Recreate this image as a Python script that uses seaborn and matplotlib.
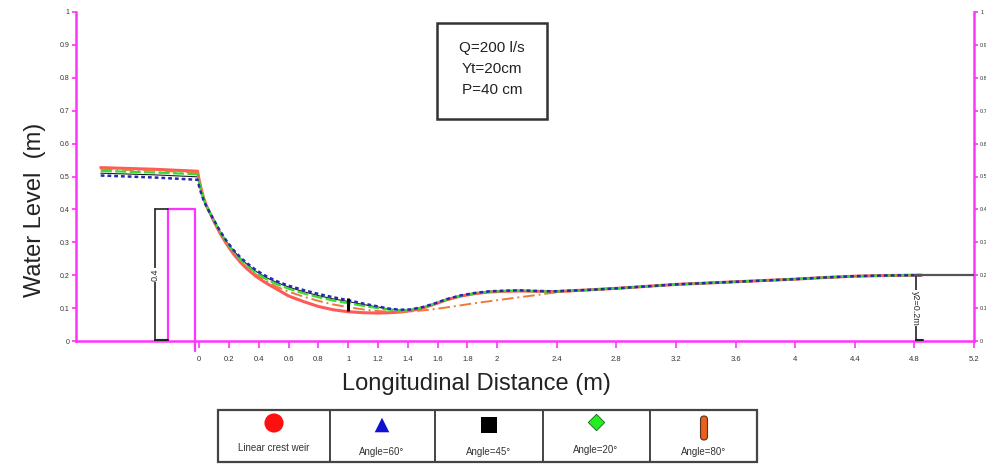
import numpy as np
import pandas as pd
import matplotlib
matplotlib.use("Agg")
import matplotlib.pyplot as plt
import seaborn as sns
from matplotlib.patches import Rectangle, FancyBboxPatch

sns.set_style("white")
plt.rcParams['font.family'] = ['Liberation Sans', 'DejaVu Sans']

# ---------------- data ----------------
x_pts = [-0.66, -0.3, -0.01, 0.0, 0.015, 0.03, 0.05, 0.074, 0.1, 0.14, 0.18, 0.23, 0.28, 0.32,
         0.38, 0.45, 0.52, 0.6, 0.7, 0.8, 0.9, 1.0, 1.1, 1.2, 1.28, 1.35, 1.42, 1.5, 1.58,
         1.66, 1.75, 1.85, 1.95, 2.05, 2.15, 2.27, 2.38, 2.6, 2.8, 3.0, 3.2, 3.4, 3.6, 3.8,
         4.0, 4.2, 4.4, 4.6, 4.8, 4.85]

linear_crest = [0.527, 0.522, 0.516, 0.490, 0.460, 0.435, 0.410, 0.388, 0.363, 0.328, 0.298,
                0.265, 0.238, 0.220, 0.197, 0.176, 0.158, 0.137, 0.120, 0.105, 0.095, 0.089,
                0.086, 0.085, 0.086, 0.088, 0.092, 0.100, 0.112, 0.125, 0.136, 0.144, 0.149,
                0.151, 0.152, 0.151, 0.150, 0.155, 0.160, 0.166, 0.172, 0.176, 0.180, 0.184,
                0.188, 0.193, 0.197, 0.199, 0.200, 0.200]
angle_60 = [0.503, 0.497, 0.490, 0.470, 0.447, 0.428, 0.408, 0.388, 0.367, 0.335, 0.307,
            0.277, 0.253, 0.237, 0.216, 0.197, 0.182, 0.168, 0.155, 0.143, 0.133, 0.124,
            0.114, 0.105, 0.098, 0.095, 0.096, 0.103, 0.114, 0.127, 0.138, 0.146, 0.151,
            0.153, 0.154, 0.152, 0.151, 0.155, 0.160, 0.166, 0.172, 0.176, 0.180, 0.184,
            0.188, 0.193, 0.197, 0.199, 0.200, 0.200]
angle_45 = [0.510, 0.505, 0.499, 0.478, 0.451, 0.430, 0.409, 0.388, 0.366, 0.334, 0.305,
            0.275, 0.250, 0.234, 0.212, 0.193, 0.178, 0.164, 0.150, 0.138, 0.128, 0.120,
            0.111, 0.103, 0.097, 0.094, 0.095, 0.102, 0.113, 0.126, 0.137, 0.145, 0.150,
            0.152, 0.153, 0.151, 0.150, 0.155, 0.160, 0.166, 0.172, 0.176, 0.180, 0.184,
            0.188, 0.193, 0.197, 0.199, 0.200, 0.200]
angle_20 = [0.517, 0.512, 0.507, 0.485, 0.455, 0.432, 0.410, 0.389, 0.366, 0.332, 0.303,
            0.272, 0.247, 0.230, 0.208, 0.188, 0.173, 0.159, 0.145, 0.133, 0.123, 0.115,
            0.107, 0.100, 0.095, 0.093, 0.095, 0.102, 0.113, 0.126, 0.137, 0.145, 0.150,
            0.152, 0.153, 0.151, 0.150, 0.155, 0.160, 0.166, 0.172, 0.176, 0.180, 0.184,
            0.188, 0.193, 0.197, 0.199, 0.200, 0.200]
angle_80 = [0.522, 0.518, 0.512, 0.488, 0.458, 0.434, 0.410, 0.389, 0.365, 0.330, 0.300,
            0.268, 0.242, 0.225, 0.203, 0.182, 0.165, 0.150, 0.135, 0.122, 0.111, 0.103,
            0.096, 0.091, 0.089, 0.089, 0.090, 0.093, 0.097, 0.102, 0.108, 0.115, 0.121,
            0.127, 0.133, 0.140, 0.147, 0.155, 0.160, 0.166, 0.172, 0.176, 0.180, 0.184,
            0.188, 0.193, 0.197, 0.199, 0.200, 0.200]

series_names = ["Linear crest weir", "Angle=60°", "Angle=45°", "Angle=20°", "Angle=80°"]
series_vals = [linear_crest, angle_60, angle_45, angle_20, angle_80]

x_ticks = [0, 0.2, 0.4, 0.6, 0.8, 1.0, 1.2, 1.4, 1.6, 1.8, 2.0, 2.4, 2.8, 3.2, 3.6, 4.0, 4.4, 4.8, 5.2]
x_tick_labels = ["0", "0.2", "0.4", "0.6", "0.8", "1", "1.2", "1.4", "1.6", "1.8", "2",
                 "2.4", "2.8", "3.2", "3.6", "4", "4.4", "4.8", "5.2"]
y_ticks = [0, 0.1, 0.2, 0.3, 0.4, 0.5, 0.6, 0.7, 0.8, 0.9, 1.0]
y_tick_labels = ["0", "0.1", "0.2", "0.3", "0.4", "0.5", "0.6", "0.7", "0.8", "0.9", "1"]

weir_height = 0.4
tail_depth = 0.2
info_lines = ["Q=200 l/s", "Yt=20cm", "P=40 cm"]

# ---------------- figure ----------------
W, H = 987, 466
fig = plt.figure(figsize=(W / 100, H / 100), dpi=100)
ax = fig.add_axes([76 / W, 1 - 341 / H, (974 - 76) / W, (341 - 12) / H])

MAG = '#ff33ff'
styles = {
    "Linear crest weir": dict(color='#ff5a5a', linestyle='-', linewidth=2.2, zorder=3),
    "Angle=45°": dict(color='#202020', linestyle='-', linewidth=0.8, zorder=2),
    "Angle=80°": dict(color='#f07838', linestyle=(0, (6, 2, 1, 2)), linewidth=1.4, zorder=4),
    "Angle=20°": dict(color='#33dd33', linestyle=(0, (5, 1.5)), linewidth=1.6, zorder=5),
    "Angle=60°": dict(color='#2828b0', linestyle=(0, (1.5, 1.2)), linewidth=1.8, zorder=6),
}

rows = []
for name, vals in zip(series_names, series_vals):
    for xv, yv in zip(x_pts, vals):
        rows.append(dict(x=xv, y=yv, series=name))
df = pd.DataFrame(rows)

for name in ["Angle=45°", "Linear crest weir", "Angle=80°", "Angle=20°", "Angle=60°"]:
    st = styles[name]
    sns.lineplot(data=df[df.series == name], x='x', y='y', ax=ax, sort=False,
                 estimator=None, color=st['color'], linestyle=st['linestyle'],
                 linewidth=st['linewidth'], zorder=st['zorder'], legend=False)

# black marker segment near x = 1
ax.vlines(1.0, 0.09, 0.13, color='black', linewidth=2.2, zorder=7)

# weir
wl, wr = -0.208, -0.027
ax.plot([wl, wl, wr, wr], [0, weir_height, weir_height, -0.03], color=MAG, lw=1.6,
        clip_on=False, zorder=8)

# dimension 0.4
dx = -0.295
ax.plot([dx, dx], [0, weir_height], color='#222222', lw=1.2, zorder=8)
ax.plot([dx, wl], [weir_height, weir_height], color='#222222', lw=1.2, zorder=8)
ax.plot([dx, wl], [0.002, 0.002], color='#222222', lw=1.5, zorder=8)
ax.text(dx, 0.2, "0.4", rotation=90, ha='center', va='center', fontsize=6.5,
        bbox=dict(facecolor='white', edgecolor='none', pad=0.5), zorder=9)

# dimension y2
rx = 4.81
ax.plot([rx, rx], [0, tail_depth], color='#222222', lw=1.2, zorder=8)
ax.plot([rx, 5.2], [tail_depth, tail_depth], color='#555555', lw=1.6, zorder=8)
ax.plot([rx, 4.86], [0.002, 0.002], color='#222222', lw=1.5, zorder=8)
ax.text(rx, 0.1, "y2=0.2m", rotation=-90, ha='center', va='center', fontsize=6.5,
        bbox=dict(facecolor='white', edgecolor='none', pad=0.5), zorder=9)

# axes styling
ax.set_xlim(-0.826, 5.2)
ax.set_ylim(0, 1)
ax.spines['top'].set_visible(False)
for side in ['left', 'right', 'bottom']:
    ax.spines[side].set_visible(True)
    ax.spines[side].set_color(MAG)
    ax.spines[side].set_linewidth(1.8)

ax.set_xticks(x_ticks)
ax.set_xticklabels(x_tick_labels)
ax.set_yticks(y_ticks)
ax.set_yticklabels(y_tick_labels)
ax.tick_params(axis='x', direction='out', length=5, width=1.2, color=MAG,
               labelsize=5.5, pad=6, labelcolor='#333333', bottom=True)
ax.tick_params(axis='y', direction='out', length=3, width=1.2, color=MAG,
               labelsize=5, pad=2, labelcolor='#333333', left=True, right=True,
               labelright=True)
for t in ax.yaxis.get_major_ticks():
    t.label2.set_fontsize(4)
ax.tick_params(axis='y', which='major', pad=1.5)
ax.set_xlabel("")
ax.set_ylabel("")
ax.grid(False)

fig.text(35 / W, 1 - 210 / H, "Water Level  (m)", rotation=90, ha='center', va='center',
         fontsize=17, color='#222222')
fig.text(476 / W, 1 - 384 / H, "Longitudinal Distance (m)", ha='center', va='center',
         fontsize=17, color='#222222')

# info box
fig.patches.append(Rectangle((437 / W, 1 - 119 / H), (547 - 437) / W, (119 - 23) / H,
                             transform=fig.transFigure, facecolor='white',
                             edgecolor='#333333', linewidth=1.8, zorder=10))
for i, t in enumerate(info_lines):
    fig.text(492 / W, 1 - (48 + 21 * i) / H, t, ha='center', va='center', fontsize=11,
             color='#222222', zorder=11)

# legend table
lx0, lx1, ly0, ly1 = 218, 757, 410, 462
lax = fig.add_axes([lx0 / W, 1 - ly1 / H, (lx1 - lx0) / W, (ly1 - ly0) / H])
lax.set_xlim(0, lx1 - lx0)
lax.set_ylim(0, ly1 - ly0)
lax.axis('off')
lax.add_patch(Rectangle((0, 0), lx1 - lx0, ly1 - ly0, facecolor='white',
                        edgecolor='#444444', linewidth=1.6, clip_on=False))
dividers = [330, 435, 543, 650]
for d in dividers:
    lax.plot([d - lx0, d - lx0], [0, ly1 - ly0], color='#444444', lw=1.4)
centers = [274, 382, 489, 596, 704]
cx = [c - lx0 for c in centers]
lax.scatter([cx[0]], [39], s=190, marker='o', color='#ff1010', edgecolor='none', zorder=5)
lax.scatter([cx[1]], [37], s=110, marker='^', color='#1010d0', edgecolor='none', zorder=5)
lax.scatter([cx[2]], [37], s=140, marker='s', color='black', edgecolor='none', zorder=5)
lax.scatter([cx[3]], [40], s=70, marker='D', color='#22ee22', edgecolor='#116611',
            linewidth=0.6, zorder=5)
lax.add_patch(FancyBboxPatch((cx[4] - 3.5, 22), 7, 24,
                             boxstyle="round,pad=0,rounding_size=3.5",
                             facecolor='#e8601c', edgecolor='#553322', linewidth=0.8,
                             zorder=5))
label_y = [14, 10, 10, 12, 10]
for c, name, ly in zip(cx, series_names, label_y):
    lax.text(c, ly, name, ha='center', va='center', fontsize=7, color='#333333')

fig.savefig("out.png", dpi=100, facecolor='white')
